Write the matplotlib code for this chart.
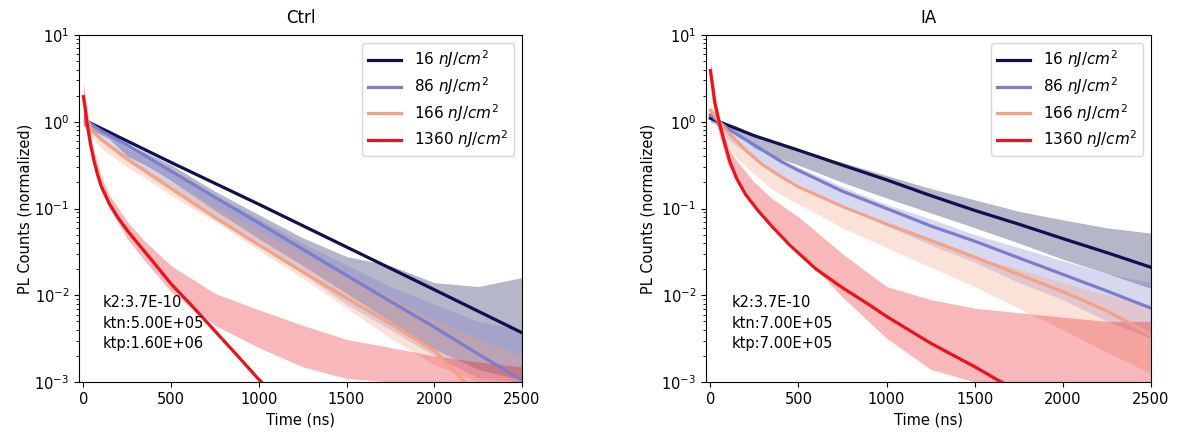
import matplotlib.pyplot as plt
import numpy as np

# data
labels = ["16 $nJ/cm^2$", "86 $nJ/cm^2$", "166 $nJ/cm^2$", "1360 $nJ/cm^2$"]
colors = ["#10104f", "#7d7dcf", "#f5a183", "#e8141c"]

# time grid where the edges of the measured point clouds were read
t_cloud = [0, 25, 50, 100, 150, 250, 350, 500, 750, 1000, 1250, 1500, 1750, 2000, 2250, 2500]

# Ctrl : cloud edges (low / high)
ctrl16_lo = [0.89, 0.89, 0.79, 0.71, 0.63, 0.40, 0.32, 0.21, 0.095, 0.045, 0.022, 0.0105, 0.005, 0.0024, 0.0014, 0.00105]
ctrl16_hi = [1.26, 1.05, 0.95, 0.87, 0.79, 0.55, 0.45, 0.32, 0.158, 0.085, 0.046, 0.028, 0.022, 0.014, 0.0126, 0.016]
ctrl86_lo = [0.9, 0.89, 0.76, 0.63, 0.55, 0.355, 0.275, 0.178, 0.079, 0.04, 0.0178, 0.0079, 0.004, 0.002, 0.00112, 0.001]
ctrl86_hi = [1.2, 1.05, 0.93, 0.83, 0.72, 0.50, 0.40, 0.28, 0.141, 0.076, 0.04, 0.0224, 0.0126, 0.0079, 0.005, 0.004]
ctrl166_lo = [0.89, 0.79, 0.66, 0.50, 0.42, 0.30, 0.224, 0.141, 0.071, 0.033, 0.0158, 0.0071, 0.0032, 0.00158, 0.001, 0.001]
ctrl166_hi = [1.26, 1.0, 0.83, 0.66, 0.55, 0.40, 0.30, 0.20, 0.105, 0.056, 0.03, 0.0166, 0.0095, 0.0052, 0.0032, 0.002]
ctrl1360_lo = [1.0, 0.71, 0.355, 0.158, 0.1, 0.045, 0.025, 0.011, 0.0045, 0.0025, 0.0015, 0.0011, 0.001, 0.001, 0.001, 0.001]
ctrl1360_hi = [2.8, 1.26, 0.562, 0.24, 0.141, 0.071, 0.042, 0.022, 0.0105, 0.0068, 0.0045, 0.0031, 0.0025, 0.002, 0.0017, 0.0015]

# Ctrl : fitted curves
ctrl16_t = [25, 500, 1000, 1500, 2000, 2500]
ctrl16_fit = [1.0, 0.34, 0.112, 0.036, 0.0116, 0.0037]
ctrl86_t = [25, 100, 250, 500, 750, 1000, 1250, 1500, 1750, 2000, 2250, 2500]
ctrl86_fit = [1.0, 0.79, 0.54, 0.27, 0.135, 0.068, 0.034, 0.017, 0.0085, 0.0043, 0.0021, 0.00105]
ctrl166_t = [25, 50, 100, 250, 500, 750, 1000, 1250, 1500, 1750, 2000, 2150, 2200]
ctrl166_fit = [1.0, 0.79, 0.63, 0.37, 0.17, 0.079, 0.038, 0.0186, 0.0093, 0.0047, 0.0023, 0.00112, 0.00089]
ctrl1360_t = [0, 10, 20, 40, 60, 80, 100, 150, 200, 250, 300, 400, 500, 600, 700, 800, 900, 1000, 1040]
ctrl1360_fit = [1.95, 1.45, 1.0, 0.56, 0.36, 0.25, 0.185, 0.112, 0.077, 0.056, 0.042, 0.024, 0.0135, 0.0083, 0.005, 0.003, 0.0018, 0.00107, 0.00089]

# IA : cloud edges (low / high)
ia16_lo = [1.0, 0.955, 0.89, 0.79, 0.72, 0.50, 0.40, 0.316, 0.2, 0.132, 0.089, 0.06, 0.04, 0.026, 0.0178, 0.012]
ia16_hi = [1.26, 1.15, 1.05, 0.955, 0.89, 0.71, 0.575, 0.48, 0.34, 0.24, 0.17, 0.126, 0.093, 0.074, 0.06, 0.052]
ia86_lo = [1.0, 0.955, 0.83, 0.63, 0.525, 0.38, 0.275, 0.19, 0.105, 0.063, 0.038, 0.024, 0.014, 0.0089, 0.005, 0.0032]
ia86_hi = [1.41, 1.2, 1.0, 0.83, 0.71, 0.525, 0.40, 0.30, 0.178, 0.112, 0.076, 0.05, 0.0355, 0.025, 0.0178, 0.014]
ia166_lo = [1.12, 1.0, 0.79, 0.5, 0.38, 0.25, 0.166, 0.112, 0.06, 0.0355, 0.021, 0.0126, 0.0071, 0.004, 0.0022, 0.00126]
ia166_hi = [1.58, 1.32, 1.0, 0.71, 0.55, 0.38, 0.263, 0.178, 0.1, 0.063, 0.042, 0.028, 0.02, 0.014, 0.01, 0.0079]
ia1360_lo = [2.8, 1.26, 0.71, 0.316, 0.21, 0.112, 0.063, 0.033, 0.0095, 0.0032, 0.0014, 0.001, 0.001, 0.001, 0.001, 0.001]
ia1360_hi = [5.2, 2.24, 1.12, 0.5, 0.355, 0.2, 0.13, 0.08, 0.03, 0.0126, 0.0089, 0.0071, 0.0063, 0.0056, 0.005, 0.005]

# IA : fitted curves
ia16_t = [0, 50, 250, 500, 750, 1000, 1250, 1500, 1750, 2000, 2250, 2500]
ia16_fit = [1.1, 1.0, 0.69, 0.47, 0.316, 0.214, 0.141, 0.095, 0.066, 0.045, 0.031, 0.021]
ia86_t = [0, 50, 100, 250, 400, 500, 750, 1000, 1250, 1500, 1750, 2000, 2250, 2500]
ia86_fit = [1.2, 1.0, 0.83, 0.54, 0.35, 0.275, 0.158, 0.1, 0.063, 0.042, 0.027, 0.0174, 0.0112, 0.0071]
ia166_t = [0, 25, 50, 100, 200, 300, 400, 500, 750, 1000, 1250, 1500, 1750, 2000, 2250, 2500]
ia166_fit = [1.35, 1.17, 1.0, 0.76, 0.47, 0.316, 0.234, 0.178, 0.105, 0.066, 0.043, 0.0275, 0.0174, 0.011, 0.0066, 0.0035]
ia1360_t = [0, 10, 25, 50, 75, 110, 150, 200, 270, 350, 450, 600, 750, 900, 1000, 1250, 1500, 1650, 1700]
ia1360_fit = [3.9, 2.8, 1.66, 1.0, 0.63, 0.35, 0.22, 0.145, 0.095, 0.062, 0.038, 0.02, 0.0122, 0.0078, 0.0057, 0.0028, 0.0015, 0.001, 0.00089]

ctrl_params = "k2:3.7E-10\nktn:5.00E+05\nktp:1.60E+06"
ia_params = "k2:3.7E-10\nktn:7.00E+05\nktp:7.00E+05"

panels = [
    ("Ctrl", [0.0671, 0.1157, 0.3764, 0.8032],
     [(ctrl16_lo, ctrl16_hi), (ctrl86_lo, ctrl86_hi), (ctrl166_lo, ctrl166_hi), (ctrl1360_lo, ctrl1360_hi)],
     [(ctrl16_t, ctrl16_fit), (ctrl86_t, ctrl86_fit), (ctrl166_t, ctrl166_fit), (ctrl1360_t, ctrl1360_fit)],
     ctrl_params, 0.054, 1),
    ("IA", [0.5998, 0.1157, 0.3781, 0.8032],
     [(ia16_lo, ia16_hi), (ia86_lo, ia86_hi), (ia166_lo, ia166_hi), (ia1360_lo, ia1360_hi)],
     [(ia16_t, ia16_fit), (ia86_t, ia86_fit), (ia166_t, ia166_fit), (ia1360_t, ia1360_fit)],
     ia_params, 0.058, 4),
]

fig = plt.figure(figsize=(11.77, 4.32), dpi=100)

for title, rect, clouds, fits, params, tx, ypad in panels:
    ax = fig.add_axes(rect)
    # measured data clouds
    for (lo, hi), c in zip(clouds, colors):
        ax.fill_between(t_cloud, lo, hi, color=c, alpha=0.3, lw=0)
    # fits
    for (t, y), c, lab in zip(fits, colors, labels):
        ax.plot(t, y, color=c, lw=2.3, label=lab)
    ax.set_yscale("log")
    ax.set_xlim(-25, 2500)
    ax.set_ylim(1e-3, 1e1)
    ax.set_xticks([0, 500, 1000, 1500, 2000, 2500])
    ax.tick_params(labelsize=10.5)
    ax.set_title(title, fontsize=12, pad=9)
    ax.set_xlabel("Time (ns)", fontsize=10.5)
    ax.set_ylabel("PL Counts (normalized)", fontsize=10.5, labelpad=ypad)
    ax.text(tx, 0.25, params, transform=ax.transAxes, fontsize=10.5,
            va="top", ha="left", linespacing=1.45)
    ax.legend(loc="upper right", fontsize=11, handlelength=2.2, labelspacing=0.32)

fig.savefig("out.png", dpi=100)
